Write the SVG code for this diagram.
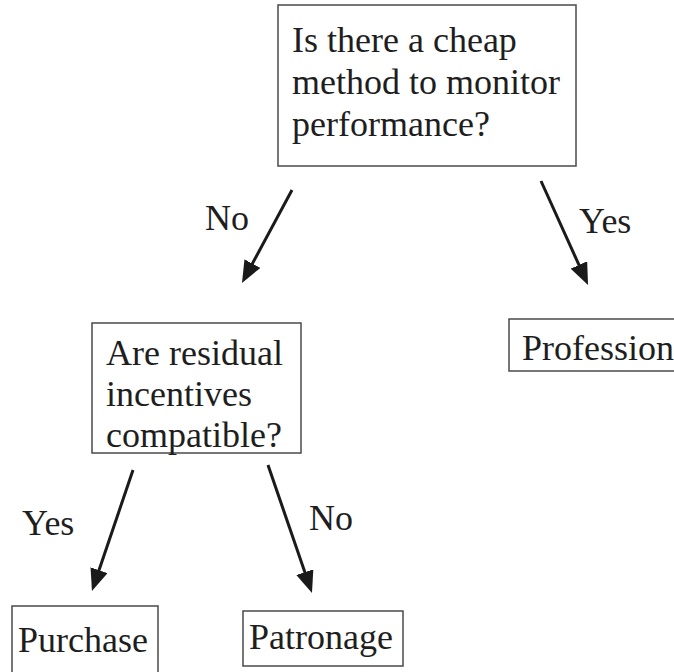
<svg xmlns="http://www.w3.org/2000/svg" width="674" height="672" viewBox="0 0 674 672">
<style>
.box{fill:#fff;stroke:#4a4a4a;stroke-width:1.5}
.t{font-family:'Liberation Serif','Tinos','DejaVu Serif',serif;font-size:36px;fill:#1e1e1e}
.c{stroke:#1a1a1a;stroke-width:3;fill:none;marker-end:url(#ah)}
</style>
<defs>
<marker id="ah" markerUnits="userSpaceOnUse" markerWidth="22" markerHeight="18" refX="11" refY="9" orient="auto" viewBox="0 0 22 18">
<path d="M0,0 L22,9 L0,18 Z" fill="#1a1a1a"/>
</marker>
</defs>
<rect width="674" height="672" fill="#fff"/>
<g id="connectors">
<line class="c" x1="292" y1="190" x2="247.2" y2="273.3"/>
<line class="c" x1="541" y1="181" x2="583.5" y2="275"/>
<line class="c" x1="133" y1="470" x2="95.5" y2="580.6"/>
<line class="c" x1="268" y1="465" x2="308.4" y2="582.6"/>
<text class="t" x="205" y="230">No</text>
<text class="t" x="579" y="233">Yes</text>
<text class="t" x="22" y="535">Yes</text>
<text class="t" x="309" y="530">No</text>
</g>
<g id="q1">
<rect class="box" x="278" y="5" width="298" height="161"/>
<text class="t" x="292" y="52">Is there a cheap</text>
<text class="t" x="292" y="94">method to monitor</text>
<text class="t" x="292" y="136">performance?</text>
</g>
<g id="q2">
<rect class="box" x="92" y="323" width="209" height="130"/>
<text class="t" x="106" y="365">Are residual</text>
<text class="t" x="106" y="406">incentives</text>
<text class="t" x="106" y="447">compatible?</text>
</g>
<g id="professional">
<rect class="box" x="509" y="319" width="200" height="52"/>
<text class="t" x="522" y="360">Profession</text>
</g>
<g id="purchase">
<rect class="box" x="12" y="606" width="146" height="80"/>
<text class="t" x="18" y="652">Purchase</text>
</g>
<g id="patronage">
<rect class="box" x="243" y="611" width="160" height="55"/>
<text class="t" x="249" y="649">Patronage</text>
</g>
</svg>
